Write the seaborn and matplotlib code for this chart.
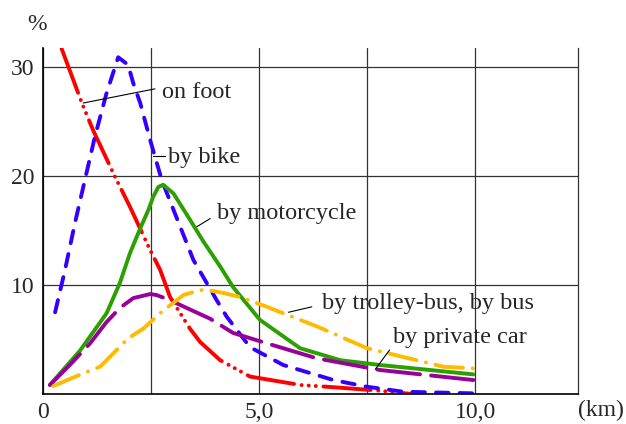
import matplotlib
matplotlib.use("Agg")
import matplotlib.pyplot as plt
import matplotlib.transforms as mtransforms
import seaborn as sns
import pandas as pd

# ---- data (distance in km, share in %) ----
foot_x = [0.43, 0.9, 1.16, 1.67, 2.01, 2.48, 2.71, 2.94, 3.4, 3.63, 4.1, 4.79, 5.95, 6.8, 7.8, 8.53]
foot_y = [31.7, 26.7, 24.2, 19.9, 17.2, 13.2, 11.4, 8.9, 6.0, 4.8, 3.1, 1.6, 0.83, 0.6, 0.3, 0.0]

bike_x = [0.28, 0.51, 0.74, 0.99, 1.2, 1.47, 1.74, 1.97, 2.09, 2.25, 2.48, 2.75, 3.02, 3.48, 4.02,
          4.25, 4.79, 5.56, 6.72, 7.49, 8.33, 9.95]
bike_y = [7.5, 11.4, 15.7, 20.0, 23.6, 27.6, 30.9, 30.2, 28.5, 26.7, 23.3, 19.6, 16.9, 12.3, 8.6,
          7.1, 4.3, 2.66, 1.28, 0.67, 0.21, 0.06]

moto_x = [0.16, 0.86, 1.47, 1.78, 2.01, 2.25, 2.44, 2.55, 2.67, 2.78, 3.02, 3.4, 3.71, 4.1,
          4.4, 5.02, 5.95, 6.88, 7.8, 9.96]
moto_y = [0.83, 4.0, 7.4, 10.2, 12.9, 15.2, 16.9, 18.1, 19.0, 19.2, 18.4, 16.0, 14.0, 11.7,
          9.8, 6.8, 4.2, 3.1, 2.66, 1.8]

bus_x = [0.24, 0.93, 1.32, 1.97, 2.32, 2.75, 3.25, 3.63, 3.9, 4.21, 4.56, 5.18, 5.5, 6.34, 7.5,
         9.27, 9.96]
bus_y = [0.73, 1.9, 2.5, 5.1, 6.0, 7.55, 9.08, 9.54, 9.48, 9.24, 8.9, 8.0, 7.5, 6.2, 4.2,
         2.5, 2.35]

car_x = [0.16, 0.62, 1.09, 1.47, 1.78, 2.09, 2.48, 2.63, 2.94, 3.87, 4.4, 5.18, 6.34, 7.8, 9.96]
car_y = [0.83, 2.66, 4.65, 6.6, 7.9, 8.8, 9.17, 9.08, 8.6, 6.9, 5.6, 4.65, 3.27, 2.2, 1.28]

labels = ["on foot", "by bike", "by motorcycle", "by trolley-bus, by bus", "by private car"]
label_pos = [(2.75, 27.7), (2.89, 21.7), (4.03, 16.6), (6.46, 8.35), (8.1, 5.14)]
leaders = [((0.93, 26.7), (2.59, 28.0)), ((2.55, 21.8), (2.82, 21.8)),
           ((3.56, 15.35), (3.87, 16.1)), ((5.68, 7.5), (6.22, 8.0)),
           ((7.69, 2.27), (8.02, 4.04))]

x_ticks = [0, 5, 10]
x_ticklabels = ["0", "5,0", "10,0"]
y_ticks = [10, 20, 30]
y_ticklabels = ["10", "20", "30"]

sns.set_style("white")
plt.rcParams["font.family"] = ["Liberation Serif", "DejaVu Serif"]
plt.rcParams["lines.scale_dashes"] = False

W, H = 626, 424
fig = plt.figure(figsize=(W / 100, H / 100), dpi=100)
ax = fig.add_axes([43 / W, 30 / H, (578 - 43) / W, (394 - 48) / H])

series = [
    (foot_x, foot_y, "#ff0000", (0, (34, 5.5, 0.1, 5.0, 0.1, 5.0, 0.1, 5.5))),
    (bike_x, bike_y, "#3300ff", (0, (9, 8))),
    (moto_x, moto_y, "#2ca000", "-"),
    (car_x, car_y, "#990099", (0, (31, 8))),
    (bus_x, bus_y, "#ffbb00", (0, (20, 7, 0.1, 7))),
]
for xs, ys, col, ls in series:
    df = pd.DataFrame({"x": xs, "y": ys})
    sns.lineplot(data=df, x="x", y="y", ax=ax, color=col, linewidth=2.8,
                 linestyle=ls, dash_capstyle="round", solid_capstyle="round",
                 solid_joinstyle="round", dash_joinstyle="round")

ax.set_xlim(0, 12.38)
ax.set_ylim(0, 31.75)
ax.set_xticks(x_ticks)
ax.set_xticklabels(x_ticklabels)
ax.set_yticks(y_ticks)
ax.set_yticklabels(y_ticklabels)
ax.set_xticks([2.5, 7.5], minor=True)
ax.tick_params(axis="both", which="both", length=0, labelsize=17, pad=6)
ax.set_xlabel("")
ax.set_ylabel("")
ax.grid(True, which="both", color="#333333", linewidth=0.9)
ax.set_axisbelow(True)
for s in ["left", "bottom"]:
    ax.spines[s].set_color("black")
    ax.spines[s].set_linewidth(1.2)
ax.spines["top"].set_visible(False)
ax.spines["right"].set_color("#333333")
ax.spines["right"].set_linewidth(0.9)

for txt, (tx, ty), (p0, p1) in zip(labels, label_pos, leaders):
    ax.text(tx, ty, txt, fontsize=17.5, va="center", ha="left")
    ax.plot([p0[0], p1[0]], [p0[1], p1[1]], color="black", linewidth=0.8)

trans = mtransforms.blended_transform_factory(ax.transData, ax.transAxes)
ax.text(12.9, -0.047, "(km)", transform=trans, fontsize=17, ha="center", va="center")
fig.text(37 / W, 1 - 25 / H, "%", fontsize=17, ha="center", va="center")

fig.savefig("out.png", dpi=100)
